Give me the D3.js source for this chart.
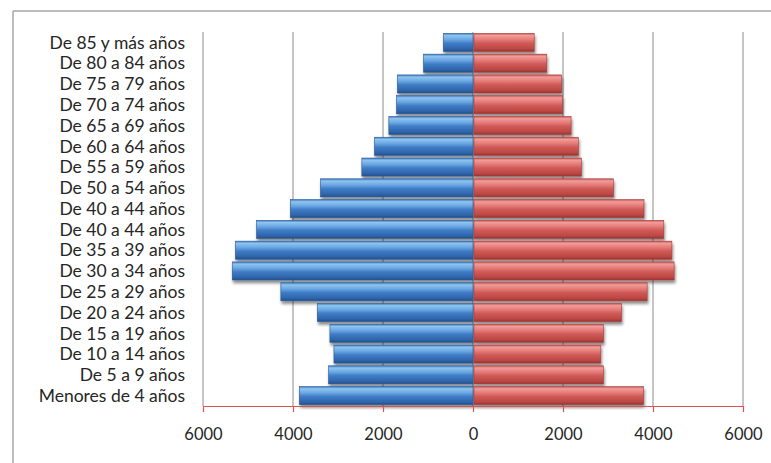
<!DOCTYPE html>
<html><head><meta charset="utf-8">
<script src="https://cdn.jsdelivr.net/npm/d3@7"></script>
<style>body{margin:0;background:#fff;}svg{display:block;}</style>
</head><body>
<svg id="c" width="771" height="463"></svg>
<script>
const categories = ["De 85 y más años","De 80 a 84 años","De 75 a 79 años","De 70 a 74 años","De 65 a 69 años","De 60 a 64 años","De 55 a 59 años","De 50 a 54 años","De 40 a 44 años","De 40 a 44 años ","De 35 a 39 años","De 30 a 34 años","De 25 a 29 años","De 20 a 24 años","De 15 a 19 años","De 10 a 14 años","De 5 a 9 años","Menores de 4 años"];
const hombres = [660,1100,1680,1700,1870,2190,2470,3390,4060,4810,5280,5350,4270,3460,3180,3090,3210,3860];
const mujeres = [1360,1640,1970,1990,2180,2340,2410,3120,3800,4240,4420,4470,3870,3300,2900,2840,2900,3790];
const tickValues = [-6000,-4000,-2000,0,2000,4000,6000];

const svg = d3.select("#c");
const defs = svg.append("defs");
function grad(id, stops){
  const g = defs.append("linearGradient").attr("id",id).attr("x1",0).attr("y1",0).attr("x2",0).attr("y2",1);
  stops.forEach(s=>g.append("stop").attr("offset",s[0]).attr("stop-color",s[1]));
}
grad("gBlue",[[0,"#3f78c0"],[0.12,"#8ec4ef"],[0.35,"#6aa6e2"],[0.55,"#3f7dc6"],[0.85,"#2f65ab"],[1,"#234f8a"]]);
grad("gRed",[[0,"#c65855"],[0.12,"#f29c99"],[0.35,"#e47a77"],[0.55,"#cf5a57"],[0.85,"#bc4744"],[1,"#993331"]]);
const f = defs.append("filter").attr("id","sh").attr("x","-5%").attr("y","-20%").attr("width","110%").attr("height","160%");
f.append("feGaussianBlur").attr("in","SourceAlpha").attr("stdDeviation",1.5);
f.append("feOffset").attr("dx",1).attr("dy",3).attr("result","b");
f.append("feComponentTransfer").append("feFuncA").attr("type","linear").attr("slope",0.45);
const m = f.append("feMerge"); m.append("feMergeNode"); m.append("feMergeNode").attr("in","SourceGraphic");

// frame
svg.append("line").attr("x1",13).attr("x2",771).attr("y1",11).attr("y2",11).attr("stroke","#a6a6a6").attr("stroke-width",1.5);
svg.append("line").attr("x1",13).attr("x2",13).attr("y1",11).attr("y2",463).attr("stroke","#a6a6a6").attr("stroke-width",1.5);

const x = d3.scaleLinear().domain([-6000,6000]).range([203,743]);
const y = d3.scaleBand().domain(categories).range([32,406]).paddingInner(0.13).paddingOuter(0.065);

// gridlines
svg.append("g").selectAll("line").data(tickValues).join("line")
  .attr("x1",d=>x(d)).attr("x2",d=>x(d)).attr("y1",32).attr("y2",406)
  .attr("stroke","#8c8c8c").attr("stroke-width",1);

// bars
const bars = svg.append("g").attr("filter","url(#sh)");
bars.selectAll("rect.h").data(hombres).join("rect").attr("class","h")
  .attr("x",d=>x(-d)).attr("width",d=>x(0)-x(-d))
  .attr("y",(d,i)=>y(categories[i])).attr("height",y.bandwidth())
  .attr("fill","url(#gBlue)").attr("stroke","#2a5a96").attr("stroke-width",0.6);
bars.selectAll("rect.m").data(mujeres).join("rect").attr("class","m")
  .attr("x",x(0)+1).attr("width",d=>x(d)-x(0)-1)
  .attr("y",(d,i)=>y(categories[i])).attr("height",y.bandwidth())
  .attr("fill","url(#gRed)").attr("stroke","#a63c39").attr("stroke-width",0.6);

// category labels
svg.append("g").selectAll("text").data(categories).join("text")
  .attr("x",185).attr("y",d=>y(d)+y.bandwidth()/2).attr("dy","0.36em")
  .attr("text-anchor","end").attr("font-family","Lato, 'Open Sans', sans-serif")
  .attr("font-size",17.5).attr("fill","#262626").text(d=>d.trim());

// x axis
const ax = svg.append("g").attr("transform","translate(0,406)")
  .call(d3.axisBottom(x).tickValues(tickValues).tickFormat(d=>Math.abs(d)).tickSize(6).tickPadding(16).tickSizeOuter(0));
ax.select(".domain").attr("stroke","#d9534f").attr("stroke-width",1.2);
ax.selectAll(".tick line").attr("stroke","#d9534f").attr("stroke-width",1.2);
ax.selectAll(".tick text").attr("font-family","Lato, 'Open Sans', sans-serif").attr("font-size",16.5).attr("fill","#262626");
</script>
</body></html>
